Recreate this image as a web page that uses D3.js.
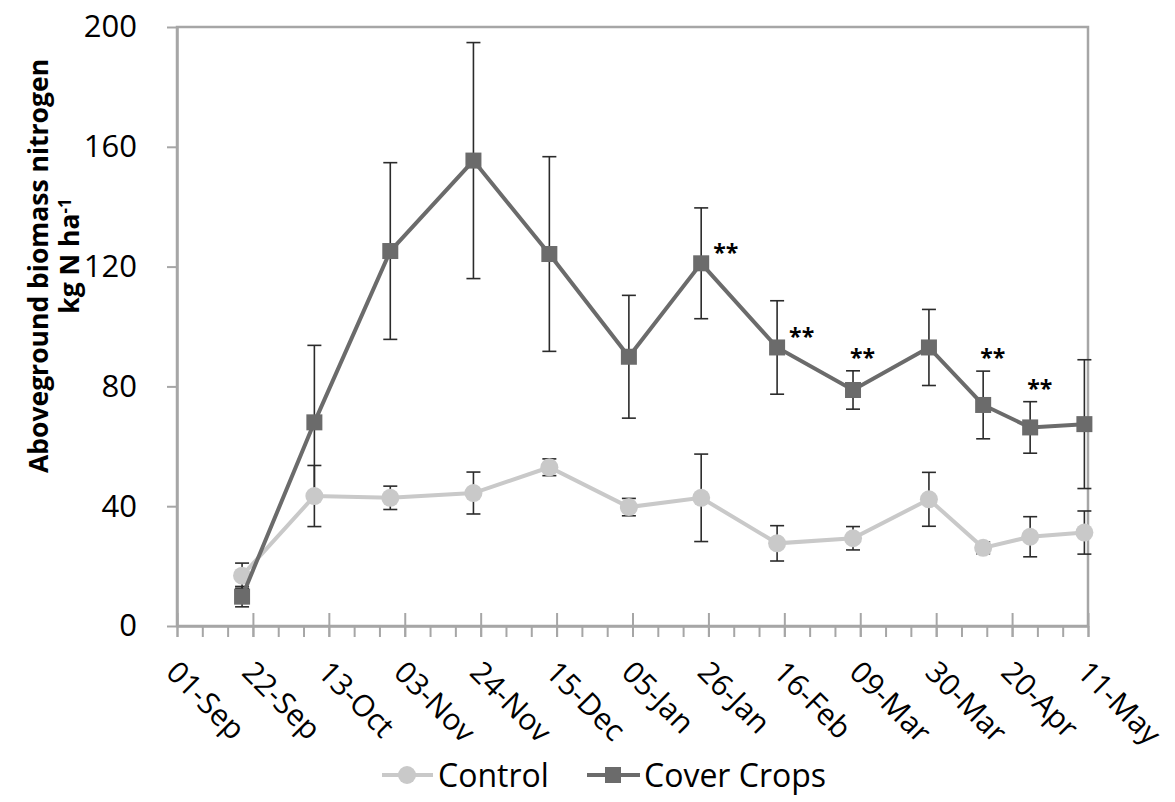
<!DOCTYPE html>
<html>
<head>
<meta charset="utf-8">
<script src="https://cdn.jsdelivr.net/npm/d3@7"></script>
<style>
  body { margin: 0; background: #ffffff; }
  svg { display: block; font-family: "Open Sans", sans-serif; }
</style>
</head>
<body>
<div id="chart"></div>
<script>
//sampling dates
const sampleDates = ["2018-09-19", "2018-10-09", "2018-10-30", "2018-11-22", "2018-12-13",
    "2019-01-04", "2019-01-24", "2019-02-14", "2019-03-07", "2019-03-28",
    "2019-04-12", "2019-04-25", "2019-05-10"];

//control plots
const controlMeans = [16.8, 43.4, 42.8, 44.4, 53.0, 39.7, 42.8, 27.6, 29.3, 42.3, 26.1, 29.8, 31.2];
const controlErr = [4.2, 10.2, 3.9, 7.0, 2.8, 2.9, 14.6, 5.9, 3.9, 9.0, 2.0, 6.7, 7.2];

//cover crop plots
const coverMeans = [9.8, 68.0, 125.2, 155.4, 124.2, 89.9, 121.1, 93.0, 78.8, 93.0, 73.8, 66.3, 67.4];
const coverErr = [3.4, 25.7, 29.5, 39.4, 32.5, 20.5, 18.5, 15.6, 6.4, 12.7, 11.3, 8.6, 21.5];

//significance marks on cover crops, and where they sit
const sigLabels = ["", "", "", "", "", "", "**", "**", "**", "", "**", "**", ""];
const sigPlace = ["", "", "", "", "", "", "right", "right", "above", "", "above", "above", ""];

const yTicks = [0, 40, 80, 120, 160, 200];
const axisStart = "2018-09-01";
const axisEnd = "2019-05-11";

const seriesNames = ["Control", "Cover Crops"];

function drawChart() {

    const width = 1175;
    const height = 802;
    const margin = { top: 27, right: 87, bottom: 176, left: 177 };

    const axisGrey = "#a6a6a6";
    const controlColor = "#c9c9c9";
    const coverColor = "#6b6b6b";
    const barColor = "#2b2b2b";

    const svg = d3.select("#chart")
        .append("svg")
        .attr("width", width)
        .attr("height", height);

    const parse = d3.utcParse("%Y-%m-%d");
    const start = parse(axisStart);
    const end = parse(axisEnd);

    const xScale = d3.scaleUtc()
        .domain([start, end])
        .range([margin.left, width - margin.right]);

    const yScale = d3.scaleLinear()
        .domain([0, 200])
        .range([height - margin.bottom, margin.top]);

    //build rows for each series
    const control = sampleDates.map(function(d, i) {
        return { date: parse(d), value: controlMeans[i], err: controlErr[i] };
    });
    const cover = sampleDates.map(function(d, i) {
        return { date: parse(d), value: coverMeans[i], err: coverErr[i], sig: sigLabels[i], place: sigPlace[i] };
    });

    //plot border
    svg.append("rect")
        .attr("x", margin.left)
        .attr("y", margin.top)
        .attr("width", width - margin.right - margin.left)
        .attr("height", height - margin.bottom - margin.top)
        .attr("fill", "none")
        .attr("stroke", axisGrey)
        .attr("stroke-width", 2.5);

    //major ticks every 3 weeks, minor every week
    const majorTicks = d3.range(0, 253, 21).map(function(d) { return d3.utcDay.offset(start, d); });
    const minorTicks = d3.range(0, 253, 7).map(function(d) { return d3.utcDay.offset(start, d); });

    const xMinor = svg.append("g")
        .attr("transform", "translate(0," + (height - margin.bottom) + ")")
        .call(d3.axisBottom(xScale).tickValues(minorTicks).tickSize(11).tickFormat(""));
    xMinor.select(".domain").remove();
    xMinor.selectAll(".tick line").attr("stroke", axisGrey).attr("stroke-width", 2);

    const xAxis = svg.append("g")
        .attr("transform", "translate(0," + (height - margin.bottom) + ")")
        .call(d3.axisBottom(xScale).tickValues(majorTicks).tickSize(11).tickSizeOuter(0)
            .tickFormat(d3.utcFormat("%d-%b")));

    xAxis.select(".domain").attr("stroke", axisGrey).attr("stroke-width", 2.5);
    xAxis.selectAll(".tick line")
        .attr("y1", -13)
        .attr("y2", 11)
        .attr("stroke", axisGrey)
        .attr("stroke-width", 2);

    xAxis.selectAll(".tick text")
        .attr("x", 0)
        .attr("y", 0)
        .attr("dy", 0)
        .attr("text-anchor", "start")
        .attr("transform", "translate(-13,48) rotate(45)")
        .attr("fill", "#000")
        .style("font-family", "'Open Sans', sans-serif")
        .style("font-size", "30px");

    //y axis
    const yAxis = svg.append("g")
        .attr("transform", "translate(" + margin.left + ",0)")
        .call(d3.axisLeft(yScale).tickValues(yTicks).tickSize(10).tickSizeOuter(0).tickPadding(30));

    yAxis.select(".domain").attr("stroke", axisGrey).attr("stroke-width", 2.5);
    yAxis.selectAll(".tick line").attr("stroke", axisGrey).attr("stroke-width", 2);
    yAxis.selectAll(".tick text")
        .attr("fill", "#000")
        .style("font-family", "'Open Sans', sans-serif")
        .style("font-size", "31px");

    //y axis title (two lines)
    const yTitle = svg.append("g")
        .attr("font-weight", "bold")
        .attr("font-size", "26.5px");

    yTitle.append("text")
        .attr("transform", "translate(48,266) rotate(-90)")
        .attr("text-anchor", "middle")
        .text("Aboveground biomass nitrogen");

    const unit = yTitle.append("text")
        .attr("transform", "translate(79,256) rotate(-90)")
        .attr("text-anchor", "middle");
    unit.append("tspan").text("kg N ha");
    unit.append("tspan")
        .attr("dy", "-0.5em")
        .attr("font-size", "17px")
        .text("-1");

    //error bars
    const capHalf = 7;
    [control, cover].forEach(function(series) {
        const bars = svg.append("g")
            .attr("stroke", barColor)
            .attr("stroke-width", 1.6);

        series.forEach(function(d) {
            const x = xScale(d.date);
            const yTop = yScale(d.value + d.err);
            const yBot = yScale(d.value - d.err);
            bars.append("line").attr("x1", x).attr("x2", x).attr("y1", yTop).attr("y2", yBot);
            bars.append("line").attr("x1", x - capHalf).attr("x2", x + capHalf).attr("y1", yTop).attr("y2", yTop);
            bars.append("line").attr("x1", x - capHalf).attr("x2", x + capHalf).attr("y1", yBot).attr("y2", yBot);
        });
    });

    const line = d3.line()
        .x(function(d) { return xScale(d.date); })
        .y(function(d) { return yScale(d.value); });

    //control series
    svg.append("path")
        .datum(control)
        .attr("d", line)
        .attr("fill", "none")
        .attr("stroke", controlColor)
        .attr("stroke-width", 4);

    svg.selectAll(".control-dot")
        .data(control)
        .enter()
        .append("circle")
        .attr("class", "control-dot")
        .attr("cx", function(d) { return xScale(d.date); })
        .attr("cy", function(d) { return yScale(d.value); })
        .attr("r", 9)
        .attr("fill", controlColor);

    //cover crop series
    svg.append("path")
        .datum(cover)
        .attr("d", line)
        .attr("fill", "none")
        .attr("stroke", coverColor)
        .attr("stroke-width", 4);

    const sq = 16;
    svg.selectAll(".cover-dot")
        .data(cover)
        .enter()
        .append("rect")
        .attr("class", "cover-dot")
        .attr("x", function(d) { return xScale(d.date) - sq / 2; })
        .attr("y", function(d) { return yScale(d.value) - sq / 2; })
        .attr("width", sq)
        .attr("height", sq)
        .attr("fill", coverColor);

    //significance labels
    svg.selectAll(".sig")
        .data(cover.filter(function(d) { return d.sig !== ""; }))
        .enter()
        .append("text")
        .attr("class", "sig")
        .attr("x", function(d) {
            return d.place === "right" ? xScale(d.date) + 12 : xScale(d.date) - 3;
        })
        .attr("y", function(d) {
            if (d.place === "right") return yScale(d.value) - 2;
            return yScale(d.value + d.err) - 5;
        })
        .attr("font-weight", "bold")
        .attr("font-size", "23px")
        .attr("fill", "#000")
        .text(function(d) { return d.sig; });

    //legend
    const legendY = 775;
    const legend = svg.append("g");

    const controlKey = legend.append("g").attr("transform", "translate(382," + legendY + ")");
    controlKey.append("line").attr("x1", 0).attr("x2", 51).attr("stroke", controlColor).attr("stroke-width", 4);
    controlKey.append("circle").attr("cx", 25).attr("r", 9).attr("fill", controlColor);
    controlKey.append("text")
        .attr("x", 56)
        .attr("y", 12)
        .attr("font-size", "32px")
        .text(seriesNames[0]);

    const coverKey = legend.append("g").attr("transform", "translate(587," + legendY + ")");
    coverKey.append("line").attr("x1", 0).attr("x2", 53).attr("stroke", coverColor).attr("stroke-width", 4);
    coverKey.append("rect").attr("x", 26 - sq / 2).attr("y", -sq / 2).attr("width", sq).attr("height", sq).attr("fill", coverColor);
    coverKey.append("text")
        .attr("x", 57)
        .attr("y", 12)
        .attr("font-size", "32px")
        .text(seriesNames[1]);
}

drawChart();
</script>
</body>
</html>
